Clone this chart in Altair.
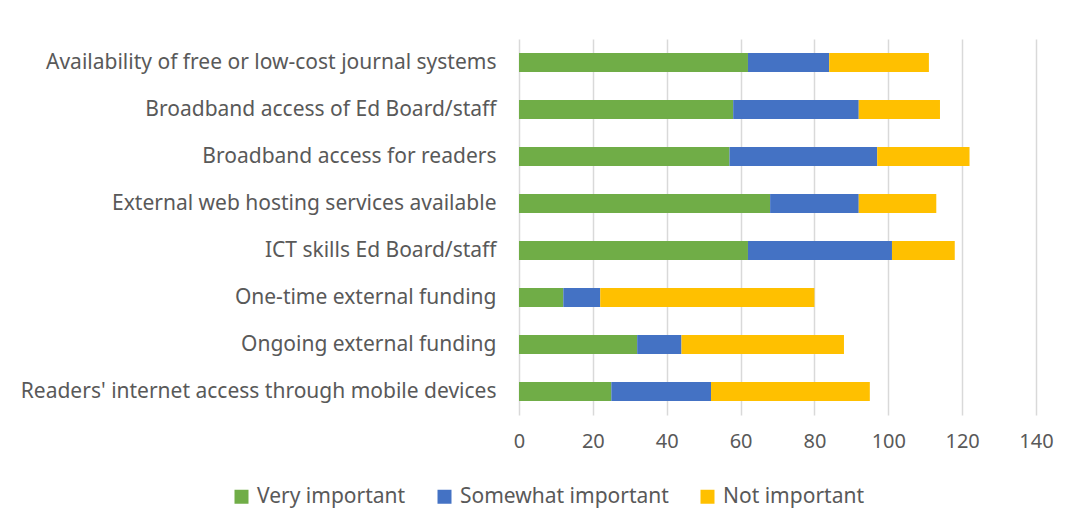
import altair as alt
import pandas as pd

categories = [
    "Availability of free or low-cost journal systems",
    "Broadband access of Ed Board/staff",
    "Broadband access for readers",
    "External web hosting services available",
    "ICT skills Ed Board/staff",
    "One-time external funding",
    "Ongoing external funding",
    "Readers' internet access through mobile devices",
]
very_important = [62, 58, 57, 68, 62, 12, 32, 25]
somewhat_important = [22, 34, 40, 24, 39, 10, 12, 27]
not_important = [27, 22, 25, 21, 17, 58, 44, 43]
series = ["Very important", "Somewhat important", "Not important"]
colors = ["#70AD47", "#4472C4", "#FFC000"]
tick_values = [0, 20, 40, 60, 80, 100, 120, 140]

rows = []
for i, c in enumerate(categories):
    for j, (s, vals) in enumerate(zip(series, [very_important, somewhat_important, not_important])):
        rows.append({"category": c, "series": s, "value": vals[i], "order": j})
df = pd.DataFrame(rows)

font = "Noto Sans"

chart = alt.Chart(df).mark_bar(size=19).encode(
    y=alt.Y("category:N", sort=categories, title=None,
            axis=alt.Axis(domain=False, ticks=False, labelPadding=23, labelFontSize=21,
                          labelColor="#595959", labelFont=font, grid=False, labelLimit=700)),
    x=alt.X("value:Q", stack="zero", title=None,
            scale=alt.Scale(domain=[0, 140], nice=False),
            axis=alt.Axis(values=tick_values, domain=False, ticks=False, labelFlush=False,
                          labelPadding=16, labelFontSize=20, labelColor="#595959", labelFont=font,
                          gridColor="#d9d9d9", gridWidth=1.5)),
    color=alt.Color("series:N", sort=series,
                    scale=alt.Scale(domain=series, range=colors),
                    legend=alt.Legend(title=None, orient="none", direction="horizontal",
                                      legendX=-288, legendY=447, symbolType="square",
                                      symbolSize=196, symbolStrokeWidth=0, labelFontSize=21,
                                      labelColor="#595959", labelFont=font, columnPadding=28,
                                      labelOffset=5, labelLimit=400)),
    order=alt.Order("order:Q"),
).properties(
    width=517, height=376,
    autosize=alt.AutoSizeParams(type="none"),
    padding={"left": 511, "top": 31, "right": 20, "bottom": 110},
).configure(background="white").configure_view(stroke=None)

chart.save("out.html", embed_options={"renderer": "svg", "actions": False})
